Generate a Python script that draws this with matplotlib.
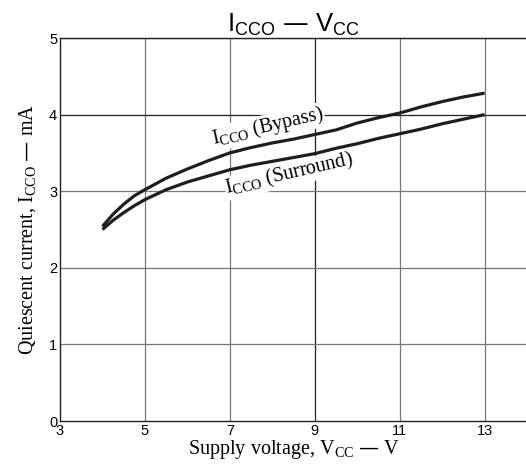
import matplotlib
matplotlib.use("Agg")
import matplotlib.pyplot as plt
import numpy as np

vcc = [4.0, 4.25, 4.5, 4.75, 5.0, 5.5, 6.0, 6.5, 7.0, 7.5, 8.0, 8.5, 9.0, 9.5, 10.0, 10.5, 11.0, 11.5, 12.0, 12.5, 13.0]
icc_bypass = [2.54, 2.70, 2.83, 2.94, 3.02, 3.17, 3.29, 3.40, 3.50, 3.57, 3.63, 3.68, 3.74, 3.80, 3.89, 3.96, 4.02, 4.10, 4.17, 4.23, 4.28]
icc_surround = [2.50, 2.62, 2.72, 2.81, 2.89, 3.02, 3.12, 3.20, 3.28, 3.34, 3.39, 3.44, 3.49, 3.56, 3.62, 3.69, 3.75, 3.81, 3.88, 3.94, 4.00]
x_ticks = [3, 5, 7, 9, 11, 13]
y_ticks = [0, 1, 2, 3, 4, 5]

fig = plt.figure(figsize=(5.26, 4.69), dpi=100)
ax = fig.add_axes([60/526, 48/469, 1 - 60/526 + 0.002, (421-38)/469])

ax.set_xlim(3, 14)
ax.set_ylim(0, 5)
ax.set_xticks(x_ticks)
ax.set_yticks(y_ticks)
ax.tick_params(length=0, labelsize=10.5, pad=2)
for lab in ax.get_xticklabels() + ax.get_yticklabels():
    lab.set_family('Liberation Sans')

for xv in x_ticks[1:]:
    ax.axvline(xv, color='#222222' if xv == 9 else '#777777', lw=0.9, zorder=1)
for yv in y_ticks[1:]:
    ax.axhline(yv, color='#222222' if yv == 4 else '#777777', lw=0.9, zorder=1)

ax.plot(vcc, icc_bypass, color='#1e1e1e', lw=2.3, zorder=3, solid_capstyle='butt', solid_joinstyle='round')
ax.plot(vcc, icc_surround, color='#1e1e1e', lw=2.3, zorder=3, solid_capstyle='butt', solid_joinstyle='round')

for s in ['left', 'bottom', 'top']:
    ax.spines[s].set_linewidth(1.0)
    ax.spines[s].set_color('#222222')
ax.spines['right'].set_visible(False)

ax.text(7.9, 3.84, r'I$_{\mathregular{CCO}}$ (Bypass)', family='Liberation Serif', fontsize=14.5,
        rotation=13, ha='center', va='center', zorder=4,
        bbox=dict(facecolor='white', edgecolor='none', pad=0.5))
ax.text(8.4, 3.22, r'I$_{\mathregular{CCO}}$ (Surround)', family='Liberation Serif', fontsize=14.5,
        rotation=13, ha='center', va='center', zorder=4,
        bbox=dict(facecolor='white', edgecolor='none', pad=0.5))

ax.set_xlabel(r'Supply voltage, V$_{\mathregular{CC}}$ — V', family='Liberation Serif', fontsize=14.5, labelpad=0)
ax.set_ylabel(r'Quiescent current, I$_{\mathregular{CCO}}$ — mA', family='Liberation Serif', fontsize=14.5, labelpad=8)
ax.set_title(r'I$_{\mathregular{CCO}}$ — V$_{\mathregular{CC}}$', family='Liberation Sans', fontsize=18.5, pad=2)

fig.savefig('out.png', dpi=100)
